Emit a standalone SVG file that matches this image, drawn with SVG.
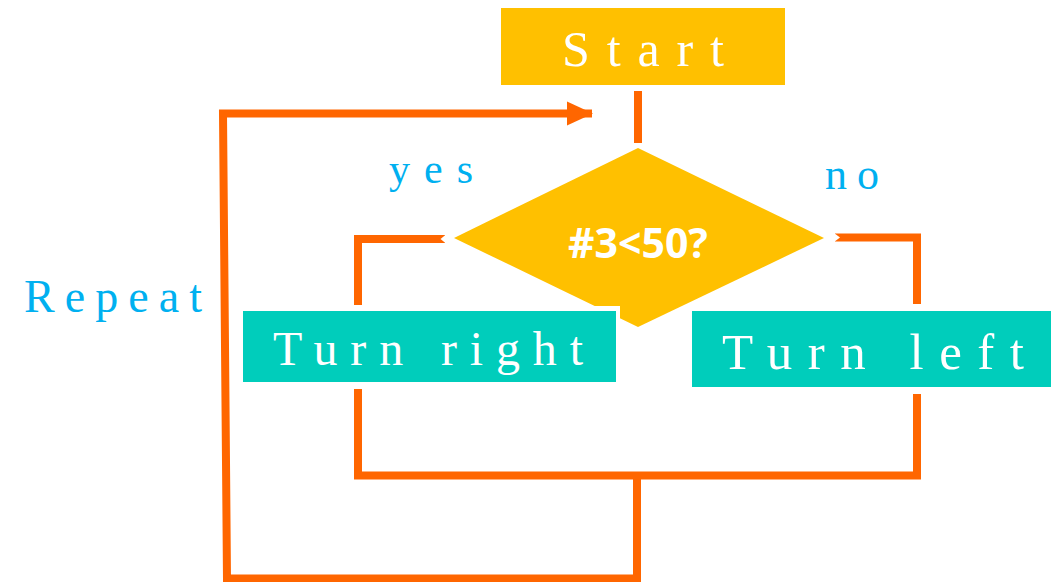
<svg xmlns="http://www.w3.org/2000/svg" width="1051" height="582" viewBox="0 0 1051 582">
  <style>
    .gold { fill: #FFC000; }
    .teal { fill: #00CDBB; }
    .lbl { font-family: "Liberation Serif", "DejaVu Serif", serif; fill: #FFFFFF; }
    .blue { font-family: "Liberation Serif", "DejaVu Serif", serif; fill: #00B0F0; }
    .wire { fill: none; stroke: #FF6600; stroke-width: 8; stroke-linecap: butt; stroke-linejoin: miter; }
    .notch { fill: #FFFFFF; }
  </style>
  <defs>
    <marker id="arrow" markerUnits="userSpaceOnUse" markerWidth="26" markerHeight="26" refX="25" refY="13" orient="auto">
      <path d="M0,1 L26,13 L0,25 Z" fill="#FF6600"/>
    </marker>
  </defs>
  <rect width="1051" height="582" fill="#FFFFFF"/>

  <g id="connectors">
    <path class="wire" d="M638 91 V143"/>
    <path class="wire" d="M358 305 V239 H445"/>
    <polygon class="notch" points="446,234.5 440.5,239 446,243.5"/>
    <path class="wire" d="M835 237.5 H917 V304"/>
    <polygon class="notch" points="834,233 840,237.5 834,242"/>
    <path class="wire" d="M358 389 V475.5 H917 V394"/>
    <path class="wire" d="M637 475.5 V578.5 H227 L223 113.5 H592" marker-end="url(#arrow)"/>
  </g>

  <g id="repeat-label">
    <text class="blue" x="24" y="312" font-size="46" textLength="178" lengthAdjust="spacing">Repeat</text>
  </g>
  <g id="yes-label">
    <text class="blue" x="389" y="183" font-size="42" textLength="84" lengthAdjust="spacing">yes</text>
  </g>
  <g id="no-label">
    <text class="blue" x="825" y="189" font-size="44" textLength="54" lengthAdjust="spacing">no</text>
  </g>

  <g id="start">
    <rect class="gold" x="501" y="8" width="284" height="77"/>
    <text class="lbl" x="562" y="66" font-size="50" textLength="162" lengthAdjust="spacing">Start</text>
  </g>

  <g id="decision">
    <polygon class="gold" points="638,148 824,238 638,327 454,238"/>
    <text x="638" y="258" text-anchor="middle" font-family="'Open Sans', 'Liberation Sans', sans-serif" font-weight="bold" font-size="41" fill="#FFFFFF">#3&lt;50?</text>
  </g>

  <g id="turn-right">
    <rect x="238" y="306" width="382" height="80" fill="#FFFFFF"/>
    <rect class="teal" x="243" y="311" width="373" height="71"/>
    <text class="lbl" x="273" y="365" font-size="48" textLength="310" lengthAdjust="spacing">Turn right</text>
  </g>

  <g id="turn-left">
    <rect class="teal" x="692" y="311" width="365" height="76"/>
    <text class="lbl" x="722" y="369" font-size="51" textLength="302" lengthAdjust="spacing">Turn left</text>
  </g>
</svg>
